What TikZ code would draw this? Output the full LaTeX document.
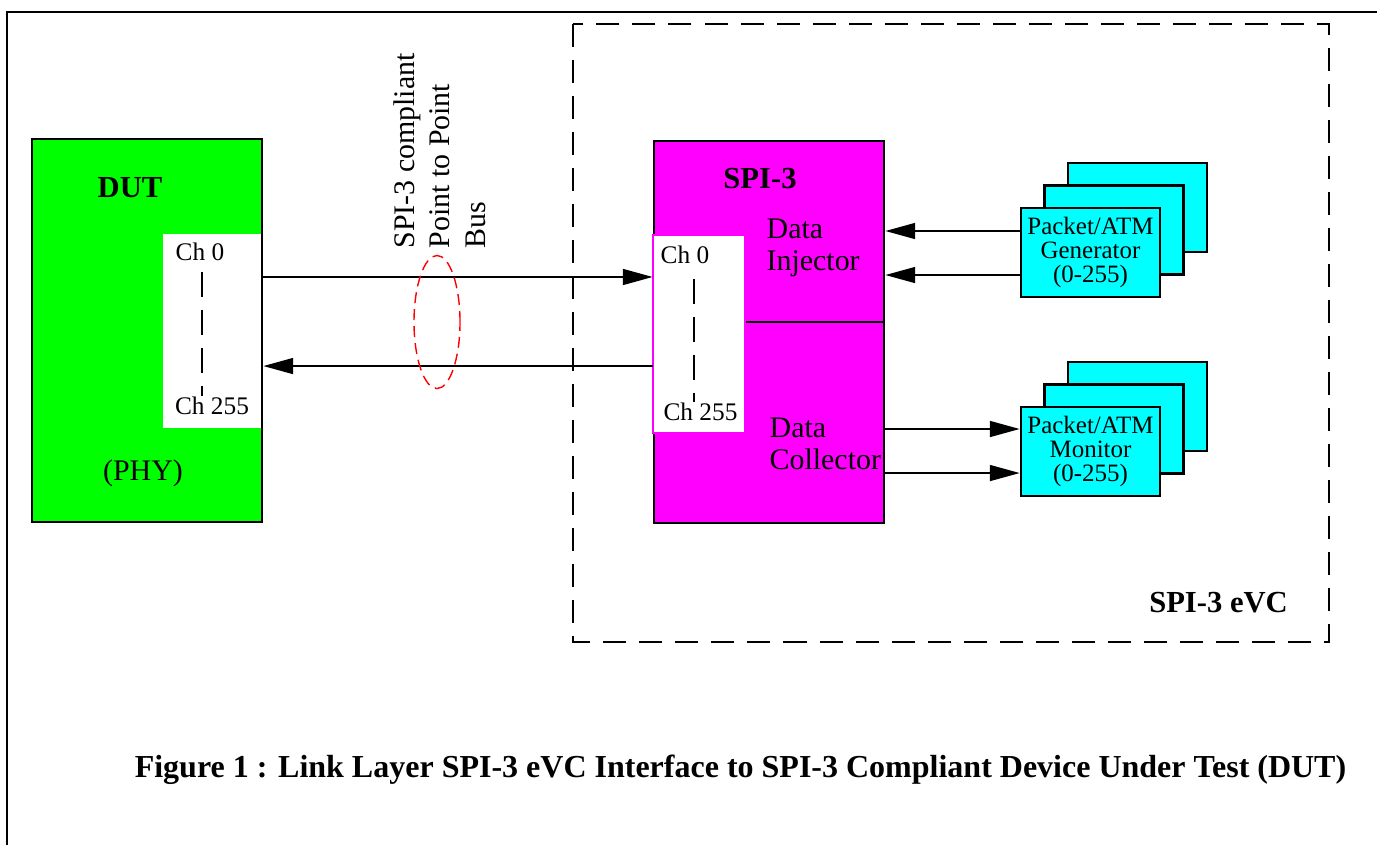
\documentclass[tikz,border=0pt]{standalone}
\usepackage{fontspec}
\setmainfont{Liberation Serif}
\usepackage{tikz}
\usetikzlibrary{shapes.geometric, arrows.meta}
\definecolor{phygreen}{RGB}{0,255,0}
\definecolor{spimag}{RGB}{255,0,255}
\definecolor{gencyan}{RGB}{0,255,255}
\tikzset{
  blk/.style={draw, line width=0.7pt, inner sep=0pt},
  port/.style={fill=white, inner sep=0pt},
  card/.style={draw, line width=0.7pt, fill=gencyan, minimum width=1.39cm,
               minimum height=0.89cm, inner sep=0pt, align=center,
               font=\fontsize{7.1}{6.9}\selectfont},
  chdash/.style={line width=0.7pt, dash pattern=on 0.25cm off 0.13cm},
  arr/.style={line width=0.6pt, -{Triangle[length=8.5pt,width=4.5pt]}},
  lbl/.style={font=\fontsize{8.5}{9.1}\selectfont, inner sep=0pt},
  boldlbl/.style={font=\fontsize{8.7}{9.1}\selectfont\bfseries, inner sep=0pt},
  chlbl/.style={font=\fontsize{7.2}{8}\selectfont, inner sep=0pt}
}
\begin{document}
\begin{tikzpicture}[x=0.01cm, y=-0.01cm]
\useasboundingbox (0,0) rectangle (1377,844);
\clip (0,0) rectangle (1377,844);
%
\draw[line width=0.6pt] (7,12) rectangle (1400,870);
\draw[line width=0.7pt, dash pattern=on 0.23cm off 0.13cm] (573,24) rectangle (1329,642);
\node[boldlbl] (evc) at (1218.5,603) {SPI-3 eVC};
%
% device under test
\node[blk, fill=phygreen, minimum width=2.30cm, minimum height=3.83cm] (dut) at (147,330.5) {};
\node[port, minimum width=0.97cm, minimum height=1.94cm] (dutport) at (212,331) {};
\node[boldlbl] (dutname) at (130,188) {DUT};
\node[lbl] (phy) at (143,473) {(PHY)};
\node[chlbl] (dutch0) at (200,252) {Ch 0};
\node[chlbl] (dutch255) at (212,406) {Ch 255};
\draw[chdash] ([xshift=0.02cm, yshift=-0.1cm]dutch0.south)
   -- ([xshift=0.02cm]dutch0.south |- dutch255.north);
%
% SPI-3 block
\node[blk, fill=spimag, minimum width=2.30cm, minimum height=3.82cm] (spi) at (769,332) {};
\node[port, draw=spimag, line width=0.4pt, minimum width=0.92cm, minimum height=1.98cm] (spiport) at (699,334) {};
\draw[line width=0.7pt] (spiport.east |- 0,322) -- (spi.east |- 0,322);
\node[boldlbl] (spiname) at (760,179) {SPI-3};
\node[lbl, align=left, anchor=west] (inj) at (766,248) {Data\\Injector};
\node[lbl, align=left, anchor=west] (coll) at (769,444) {Data\\Collector};
\node[chlbl] (spich0) at (685,255) {Ch 0};
\node[chlbl] (spich255) at (700.5,412) {Ch 255};
\draw[chdash] ([xshift=0.09cm, yshift=-0.14cm]spich0.south)
   -- ([xshift=0.09cm]spich0.south |- spich255.north);
%
% point to point bus
\draw[arr] ([yshift=0.535cm]dut.east) -- ([yshift=0.535cm]dut.east -| spi.west);
\draw[arr] ([yshift=-0.355cm]dut.east -| spi.west) -- ([yshift=-0.355cm]dut.east);
\node[draw=red, ellipse, line width=0.4pt, dash pattern=on 0.11cm off 0.06cm,
      minimum width=0.46cm, minimum height=1.33cm, inner sep=0pt] (busring) at (437,322) {};
\node[lbl, font=\fontsize{8.5}{10.1}\selectfont, rotate=90, align=left, anchor=north west]
   (buslbl) at (393,249) {SPI-3 compliant\\Point to Point\\Bus};
%
% generators and monitors
\node[card] (gen3) at (1137.5,207.5) {};
\node[card] (gen2) at ([shift={(-23.5,22.5)}]gen3.center) {};
\node[card] (gen) at ([shift={(-23.5,22.5)}]gen2.center) {Packet/ATM\\Generator\\(0-255)};
\node[card] (mon3) at (1137.5,406.5) {};
\node[card] (mon2) at ([shift={(-23.5,22.5)}]mon3.center) {};
\node[card] (mon) at ([shift={(-23.5,22.5)}]mon2.center) {Packet/ATM\\Monitor\\(0-255)};
\draw[arr] ([yshift=0.215cm]gen.west) -- ([yshift=0.215cm]gen.west -| spi.east);
\draw[arr] ([yshift=-0.225cm]gen.west) -- ([yshift=-0.225cm]gen.west -| spi.east);
\draw[arr] ([yshift=0.225cm]mon.west -| spi.east) -- ([yshift=0.225cm]mon.west);
\draw[arr] ([yshift=-0.215cm]mon.west -| spi.east) -- ([yshift=-0.215cm]mon.west);
%
\node[font=\fontsize{9.1}{10}\selectfont\bfseries, inner sep=0pt] (caption) at (740.5,770)
   {Figure 1 : Link Layer SPI-3 eVC Interface to SPI-3 Compliant Device Under Test (DUT)};
\end{tikzpicture}
\end{document}
